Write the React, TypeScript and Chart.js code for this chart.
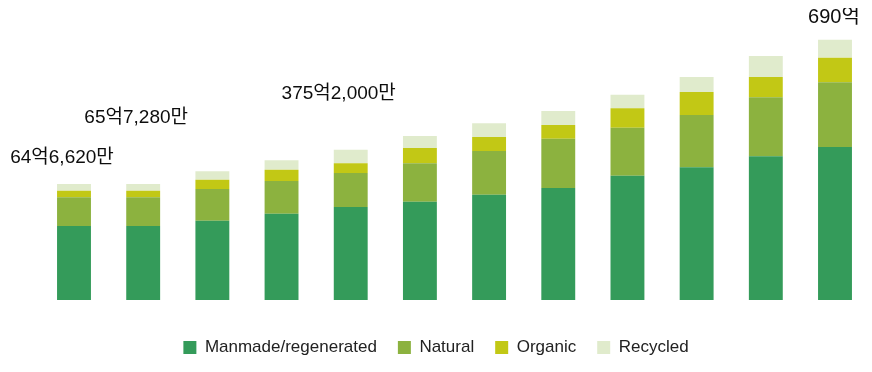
import React, { useEffect, useRef } from "react";
import { Chart, registerables } from "chart.js";

Chart.register(...registerables);

const categories = ["1", "2", "3", "4", "5", "6", "7", "8", "9", "10", "11", "12"];
const manmade = [74, 74, 79.3, 86.3, 93, 98.3, 105.3, 112, 124.3, 132.7, 143.7, 153];
const natural = [28.7, 28.7, 31.7, 32.7, 34, 38.4, 43.7, 49.3, 48, 52.3, 59, 64.7];
const organic = [6.6, 6.6, 9.3, 11.3, 9.7, 15.3, 14, 13.7, 19.4, 23, 20.3, 24.6];
const recycled = [6.7, 6.7, 8.4, 9.4, 13.6, 12, 13.7, 14, 13.6, 15, 21, 18];
const barLabels = ["64억6,620만", "65억7,280만", "", "", "375억2,000만", "", "", "", "", "", "", "690억"];

// style: label placement relative to bar top (px)
const labelDx = [-12, -7, 0, 0, -12, 0, 0, 0, 0, 0, 0, -1];
const labelLift = [26, 66, 0, 0, 56, 0, 0, 0, 0, 0, 0, 22];
const labelSize = [19, 19, 19, 19, 19, 19, 19, 19, 19, 19, 19, 20];

const FONT = '"Liberation Sans", Arial, "Noto Sans CJK KR", sans-serif';

const labelPlugin = {
  id: "barTopLabels",
  afterDatasetsDraw(chart: any) {
    const ctx = chart.ctx;
    const meta = chart.getDatasetMeta(chart.data.datasets.length - 1);
    ctx.save();
    ctx.fillStyle = "#0d0d0d";
    ctx.textAlign = "center";
    ctx.textBaseline = "middle";
    barLabels.forEach((t, i) => {
      if (!t) return;
      const el = meta.data[i];
      if (!el) return;
      ctx.font = `${labelSize[i]}px ${FONT}`;
      ctx.fillText(t, el.x + labelDx[i], el.y - labelLift[i]);
    });
    ctx.restore();
  },
};

export default function App() {
  const ref = useRef<HTMLCanvasElement | null>(null);
  useEffect(() => {
    if (!ref.current) return;
    const chart = new Chart(ref.current, {
      type: "bar",
      data: {
        labels: categories,
        datasets: [
          { label: "Manmade/regenerated", data: manmade, backgroundColor: "#349b5a" },
          { label: "Natural", data: natural, backgroundColor: "#8cb23f" },
          { label: "Organic", data: organic, backgroundColor: "#c2c815" },
          { label: "Recycled", data: recycled, backgroundColor: "#e0ebcc" },
        ],
      },
      options: {
        animation: false,
        responsive: true,
        maintainAspectRatio: false,
        datasets: { bar: { barPercentage: 0.49, categoryPercentage: 1, clip: false as any } },
        layout: { padding: 0 },
        scales: {
          x: {
            stacked: true,
            offset: false,
            display: true,
            grid: { display: false, drawTicks: false },
            border: { display: false },
            ticks: { display: false },
            afterFit: (scale: any) => {
              scale.height = 18;
              scale.paddingLeft = 66;
              scale.paddingRight = 29;
            },
          },
          y: {
            stacked: true,
            display: false,
            min: 0,
            max: 292,
          },
        },
        plugins: {
          legend: {
            position: "bottom",
            labels: {
              boxWidth: 13,
              boxHeight: 13,
              padding: 21,
              color: "#222222",
              font: { family: FONT, size: 17 },
            },
          },
          tooltip: { enabled: false },
        },
      },
      plugins: [labelPlugin],
    });
    return () => chart.destroy();
  }, []);
  return (
    <div style={{ position: "relative", width: 856, height: 358, marginBottom: -2 }}>
      <canvas ref={ref} />
    </div>
  );
}
